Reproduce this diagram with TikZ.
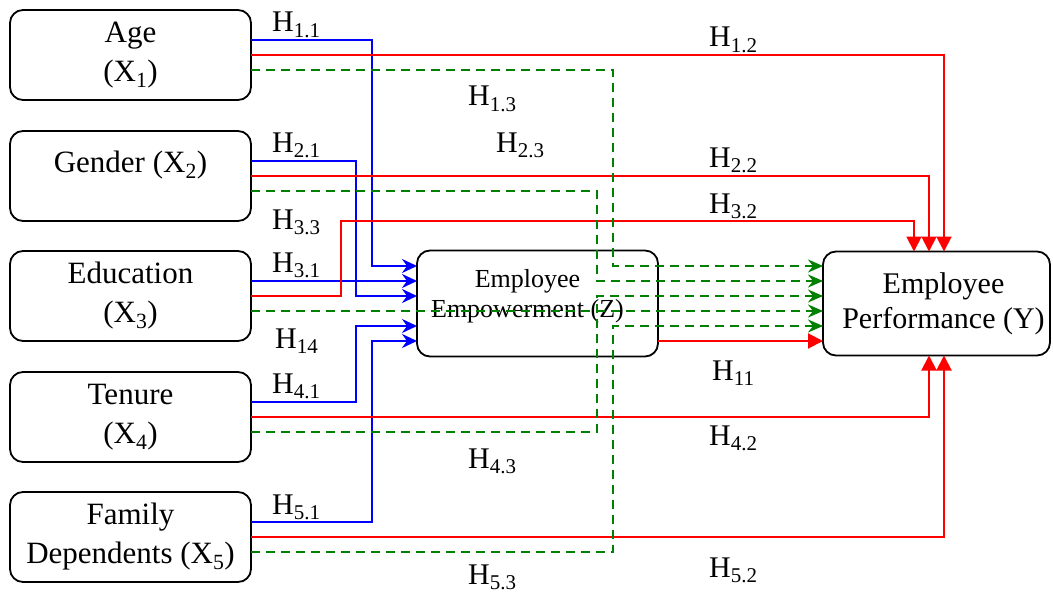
\documentclass[tikz,border=0pt]{standalone}
\usepackage{fontspec}
\setmainfont{Liberation Serif}
\usepackage{tikz}
\usetikzlibrary{arrows.meta}
\definecolor{hypblue}{HTML}{0000FF}
\definecolor{hypred}{HTML}{FF0000}
\definecolor{hypgreen}{HTML}{008000}

\begin{document}
\begin{tikzpicture}[x=1pt,y=-1pt,
  varbox/.style={draw, line width=1.8pt, rounded corners=13pt, outer sep=0pt,
    minimum width=241pt, minimum height=90pt, align=center,
    font=\fontsize{31}{39}\selectfont},
  zbox/.style={varbox, minimum height=106pt},
  ybox/.style={varbox, minimum width=227pt, minimum height=104pt},
  ztext/.style={align=center, inner sep=0pt, font=\fontsize{26}{30}\selectfont},
  ytext/.style={align=center, inner sep=0pt, font=\fontsize{30}{35}\selectfont},
  bline/.style={hypblue, line width=2pt, -{Stealth[length=15pt,width=14pt,inset=5pt]}},
  rline/.style={hypred, line width=2pt, -{Triangle[length=15pt,width=15pt]}},
  gline/.style={hypgreen, line width=2pt, dash pattern=on 9pt off 6pt,
    -{Stealth[length=15pt,width=13pt,inset=5pt]}},
  hlab/.style={anchor=base west, inner sep=0pt, font=\fontsize{30}{36}\selectfont}]
\useasboundingbox (0,0) rectangle (1053,594);

% variables
\node[varbox] (age) at (130.5,55) {Age\\(X\textsubscript{1})};
\node[varbox] (gender) at (130.5,176) {Gender (X\textsubscript{2})\\[-22pt]\strut};
\node[varbox] (edu) at (130.5,296) {Education\\(X\textsubscript{3})};
\node[varbox] (tenure) at (130.5,417) {Tenure\\(X\textsubscript{4})};
\node[varbox] (family) at (130.5,537) {Family\\Dependents (X\textsubscript{5})};
\node[zbox] (emp) at (537.5,303.5) {};
\node[ztext, xshift=-10pt, yshift=7pt] (emptext) at (emp) {Employee\\Empowerment (Z)};
\node[ybox] (perf) at (936.5,303.5) {};
\node[ytext, xshift=7pt] (perftext) at (perf) {Employee\\Performance (Y)};

% X -> Z
\draw[bline] ([yshift=15pt]age.east) -- ++(121,0) |- ([yshift=37.5pt]emp.west);
\draw[bline] ([yshift=15pt]gender.east) -- ++(105,0) |- ([yshift=7.5pt]emp.west);
\draw[bline] ([yshift=15pt]edu.east) -- ([yshift=22.5pt]emp.west);
\draw[bline] ([yshift=15pt]tenure.east) -- ++(105,0) |- ([yshift=-22.5pt]emp.west);
\draw[bline] ([yshift=15pt]family.east) -- ++(121,0) |- ([yshift=-37.5pt]emp.west);

% X -> Y
\draw[rline] (age.east) -| ([xshift=7.5pt]perf.north);
\draw[rline] (gender.east) -| ([xshift=-7.5pt]perf.north);
\draw[rline] (edu.east) -- ++(90,0) -- ++(0,-75) -| ([xshift=-22.5pt]perf.north);
\draw[rline] (tenure.east) -| ([xshift=-7.5pt]perf.south);
\draw[rline] (family.east) -| ([xshift=7.5pt]perf.south);
\draw[rline] ([yshift=-37.5pt]emp.east) -- ([yshift=-37.5pt]perf.west);

% X -> Y through Z
\draw[gline] ([yshift=-15pt]age.east) -- ++(362,0) |- ([yshift=37.5pt]perf.west);
\draw[gline] ([yshift=-15pt]gender.east) -- ++(346,0) |- ([yshift=22.5pt]perf.west);
\draw[gline] ([yshift=-15pt]edu.east) -- ([yshift=-7.5pt]perf.west);
\draw[gline] ([yshift=-15pt]tenure.east) -- ++(346,0) |- ([yshift=7.5pt]perf.west);
\draw[gline] ([yshift=-15pt]family.east) -- ++(362,0) |- ([yshift=-22.5pt]perf.west);

% hypotheses
\node[hlab] (h11) at (272,32) {H\textsubscript{1.1}};
\node[hlab] (h12) at (709,47) {H\textsubscript{1.2}};
\node[hlab] (h13) at (468,106) {H\textsubscript{1.3}};
\node[hlab] (h21) at (272,152) {H\textsubscript{2.1}};
\node[hlab] (h22) at (709,167) {H\textsubscript{2.2}};
\node[hlab] (h23) at (496,152) {H\textsubscript{2.3}};
\node[hlab] (h31) at (272,272) {H\textsubscript{3.1}};
\node[hlab] (h32) at (709,213) {H\textsubscript{3.2}};
\node[hlab] (h33) at (272,229) {H\textsubscript{3.3}};
\node[hlab] (hz) at (275,348) {H\textsubscript{14}};
\node[hlab] (hzy) at (712,380) {H\textsubscript{11}};
\node[hlab] (h41) at (272,393) {H\textsubscript{4.1}};
\node[hlab] (h42) at (709,445) {H\textsubscript{4.2}};
\node[hlab] (h43) at (468,468) {H\textsubscript{4.3}};
\node[hlab] (h51) at (272,514) {H\textsubscript{5.1}};
\node[hlab] (h52) at (709,577) {H\textsubscript{5.2}};
\node[hlab] (h53) at (468,584) {H\textsubscript{5.3}};
\end{tikzpicture}
\end{document}
